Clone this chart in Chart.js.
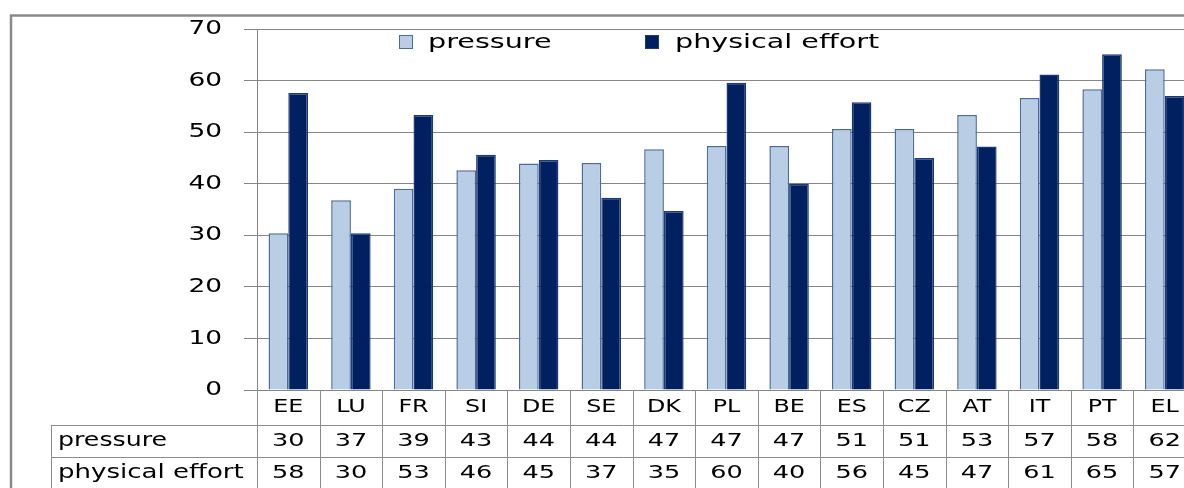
<!DOCTYPE html>
<html>
<head>
<meta charset="utf-8">
<script src="https://cdn.jsdelivr.net/npm/chart.js@4"></script>
<style>
  html, body { margin: 0; padding: 0; background: #fff; overflow: hidden; }
  canvas { display: block; }
</style>
</head>
<body>
<canvas id="chart" width="1196" height="488"></canvas>
<script>
// data
const categories = ['EE', 'LU', 'FR', 'SI', 'DE', 'SE', 'DK', 'PL', 'BE', 'ES', 'CZ', 'AT', 'IT', 'PT', 'EL'];
const pressure = [30.4, 36.8, 39.0, 42.6, 43.9, 44.0, 46.7, 47.3, 47.3, 50.6, 50.6, 53.3, 56.6, 58.3, 62.2];
const physicalEffort = [57.6, 30.4, 53.3, 45.6, 44.6, 37.3, 34.7, 59.6, 40.0, 55.8, 45.0, 47.2, 61.2, 65.1, 57.0];
const yTicks = [0, 10, 20, 30, 40, 50, 60, 70];
const seriesNames = ['pressure', 'physical effort'];

const FONT = '"DejaVu Sans", Verdana, sans-serif';
const GRID = '#868686';

// text stretched sideways, the reference is a widened screenshot
function wideText(ctx, text, x, y, align, size, sx) {
  ctx.save();
  ctx.font = size + 'px ' + FONT;
  ctx.fillStyle = '#000';
  ctx.textBaseline = 'middle';
  ctx.textAlign = align;
  ctx.translate(x, y);
  ctx.scale(sx, 1);
  ctx.fillText(text, 0, 0);
  ctx.restore();
}

function hline(ctx, x1, x2, y) {
  ctx.beginPath();
  ctx.moveTo(x1, y + 0.5);
  ctx.lineTo(x2, y + 0.5);
  ctx.stroke();
}
function vline(ctx, x, y1, y2) {
  ctx.beginPath();
  ctx.moveTo(x + 0.5, y1);
  ctx.lineTo(x + 0.5, y2);
  ctx.stroke();
}

const extras = {
  id: 'extras',
  beforeDraw(chart) {
    const ctx = chart.ctx;
    ctx.save();
    ctx.strokeStyle = '#8a8a8a';
    ctx.lineWidth = 2.5;
    ctx.beginPath();
    ctx.moveTo(11, 1000);
    ctx.lineTo(11, 15.5);
    ctx.lineTo(chart.width, 15.5);
    ctx.stroke();
    ctx.restore();
  },
  afterDraw(chart) {
    const ctx = chart.ctx;
    const x = chart.scales.x;
    const y = chart.scales.y;
    const area = chart.chartArea;

    // y tick labels
    yTicks.forEach(v => {
      wideText(ctx, String(v), 222, y.getPixelForValue(v), 'right', 20, 1.32);
    });

    // legend
    const ds = chart.data.datasets;
    const legendX = [399, 645];
    const textX = [428, 675];
    ds.forEach((d, i) => {
      ctx.save();
      ctx.fillStyle = d.backgroundColor;
      ctx.strokeStyle = d.borderColor;
      ctx.lineWidth = 1;
      ctx.fillRect(legendX[i], 35, 14, 14);
      ctx.strokeRect(legendX[i] + 0.5, 35.5, 13, 13);
      ctx.restore();
      wideText(ctx, seriesNames[i], textX[i], 43, 'left', 20, 1.43);
    });

    // data table under the plot
    const bottom = area.bottom;
    const row1 = 425, row2 = 457, tableLeft = 51;
    ctx.save();
    ctx.strokeStyle = '#8c8c8c';
    ctx.lineWidth = 1;
    hline(ctx, tableLeft, area.right, row1);
    hline(ctx, tableLeft, area.right, row2);
    vline(ctx, tableLeft, row1, chart.height);
    const step = (area.right - area.left) / categories.length;
    for (let i = 0; i <= categories.length; i++) {
      vline(ctx, Math.round(area.left + i * step), bottom, chart.height);
    }
    ctx.restore();

    categories.forEach((c, i) => {
      const cx = x.getPixelForValue(i);
      wideText(ctx, c, cx, 408, 'center', 17, 1.4);
      wideText(ctx, String(Math.round(pressure[i])), cx, 441, 'center', 18, 1.42);
      wideText(ctx, String(Math.round(physicalEffort[i])), cx, 473, 'center', 18, 1.42);
    });
    wideText(ctx, seriesNames[0], 58, 441, 'left', 19, 1.33);
    wideText(ctx, seriesNames[1], 58, 473, 'left', 19, 1.37);
  }
};

new Chart(document.getElementById('chart'), {
  type: 'bar',
  data: {
    labels: categories,
    datasets: [
      {
        label: seriesNames[0],
        data: pressure,
        backgroundColor: '#b9cde5',
        borderColor: '#4a6b9c',
        borderWidth: 1.5,
        categoryPercentage: 0.63,
        barPercentage: 1.0
      },
      {
        label: seriesNames[1],
        data: physicalEffort,
        backgroundColor: '#002060',
        borderColor: '#1d3a78',
        borderWidth: 1.5,
        categoryPercentage: 0.63,
        barPercentage: 1.0
      }
    ]
  },
  options: {
    responsive: false,
    animation: false,
    layout: { padding: { left: 0, top: 29, right: 0, bottom: 98 } },
    plugins: {
      legend: { display: false },
      tooltip: { enabled: false }
    },
    scales: {
      x: { display: false },
      y: {
        min: 0,
        max: 70,
        ticks: { stepSize: 10, display: false },
        grid: { color: GRID, lineWidth: 1, tickLength: 13, drawTicks: true },
        border: { color: GRID, width: 1 },
        afterFit(scale) { scale.width = 257; }
      }
    }
  },
  plugins: [extras]
});
</script>
</body>
</html>
